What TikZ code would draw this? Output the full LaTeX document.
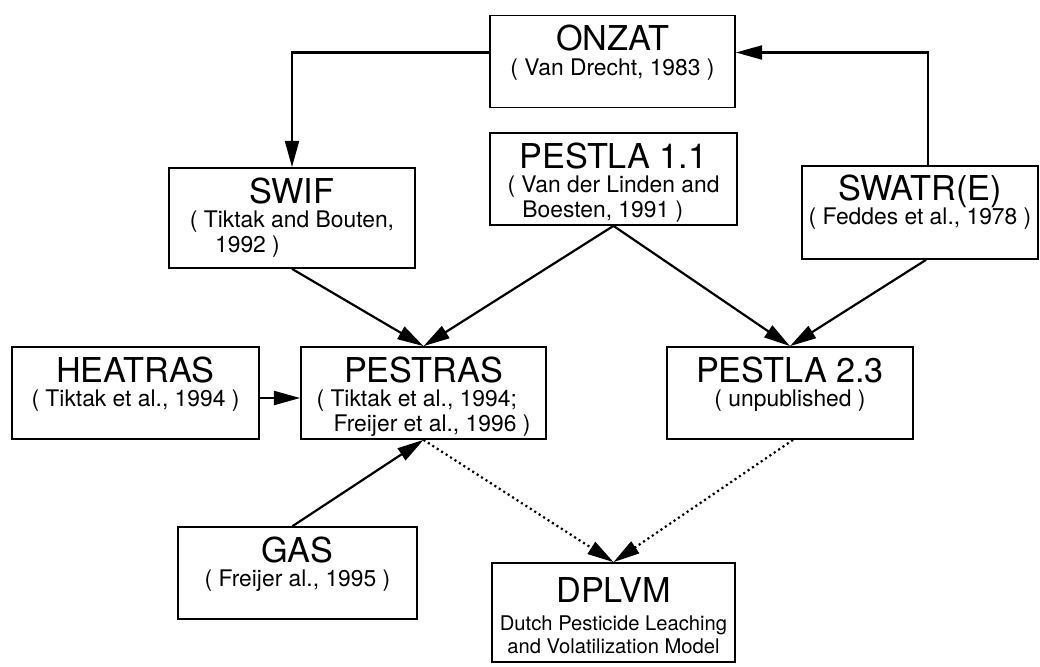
\documentclass[tikz,border=0pt]{standalone}
\usepackage{fontspec}
\setmainfont{TeX Gyre Heros}
\usetikzlibrary{arrows.meta,calc}
\newcommand{\ttl}[1]{{\fontsize{19.5}{21}\selectfont #1}}

\begin{document}
\begin{tikzpicture}[x=0.02cm, y=-0.02cm, >={Triangle[length=15pt,width=8pt]},
      box/.style={draw=black,line width=1pt,rectangle,inner sep=0pt,minimum width=4.9cm,minimum height=1.84cm},
      txt/.style={anchor=north,inner sep=0pt,align=center,font=\fontsize{13}{14}\selectfont},
      link/.style={line width=1.25pt,->},
      guess/.style={line width=1.25pt,->,dash pattern=on 1.2pt off 1.8pt}]
    \useasboundingbox (0,0) rectangle (1040,666);
    % top row
    \node[box] (onzat) at (612.5,61.5) {};
    \node[txt] (onzat-t) at ($(onzat.north)+(0,10)$) {\ttl{ONZAT}\\( Van Drecht, 1983 )};
    \node[box,minimum width=4.94cm] (pestla11) at (613.5,179) {};
    \node[txt] (pestla11-t) at ($(pestla11.north)+(0,10)$) {\ttl{PESTLA 1.1}\\\begin{tabular}[t]{@{}l@{}}( Van der Linden and\\\hspace{0.65em}Boesten, 1991 )\end{tabular}};
    \node[box,minimum width=4.92cm,minimum height=2cm] (swif) at (292,218) {};
    \node[txt] (swif-t) at ($(swif.north)+(0,10)$) {\ttl{SWIF}\\\begin{tabular}[t]{@{}l@{}}( Tiktak and Bouten,\\\hspace{1.1em}1992 )\end{tabular}};
    \node[box,minimum width=4.72cm,minimum height=1.86cm] (swatr) at (920,212.5) {};
    \node[txt] (swatr-t) at ($(swatr.north)+(0,9)$) {\ttl{SWATR(E)}\\( Feddes et al., 1978 )};
    % middle row
    \node[box,minimum width=4.94cm] (heatras) at (135.5,393) {};
    \node[txt] (heatras-t) at ($(heatras.north)+(0,10)$) {\ttl{HEATRAS}\\( Tiktak et al., 1994 )};
    \node[box] (pestras) at (423.5,393) {};
    \node[txt] (pestras-t) at ($(pestras.north)+(0,10)$) {\ttl{PESTRAS}\\\begin{tabular}[t]{@{}l@{}}( Tiktak et al., 1994;\\\hspace{0.75em}Freijer et al., 1996 )\end{tabular}};
    \node[box,minimum width=4.92cm] (pestla23) at (790,393) {};
    \node[txt] (pestla23-t) at ($(pestla23.north)+(0,10)$) {\ttl{PESTLA 2.3}\\( unpublished )};
    % bottom row
    \node[box,minimum width=4.78cm] (gas) at (297.5,573) {};
    \node[txt] (gas-t) at ($(gas.north)+(0,10)$) {\ttl{GAS}\\( Freijer al., 1995 )};
    \node[box,minimum width=4.86cm,minimum height=1.98cm] (dplvm) at (613.5,612.5) {};
    \node[txt,font=\fontsize{11.5}{13}\selectfont] (dplvm-t) at ($(dplvm.north)+(0,15)$) {\ttl{DPLVM}\\[3pt]Dutch Pesticide Leaching\\and Volatilization Model};
    % connections
    \draw[link] ($(swatr.north)+(8,0)$) |- ($(onzat.east)+(0,-9)$);
    \draw[link] ($(onzat.west)+(0,-9)$) -| (swif.north);
    \draw[link] (swif.south) -- (pestras.north);
    \draw[link] (pestla11.south) -- (pestras.north);
    \draw[link] (pestla11.south) -- (pestla23.north);
    \draw[link] ($(swatr.south)+(6,0)$) -- (pestla23.north);
    \draw[link] ($(heatras.east)+(0,5)$) -- ($(pestras.west)+(0,5)$);
    \draw[link] ($(gas.north)+(-5,0)$) -- (pestras.south);
    \draw[guess] (pestras.south) -- (dplvm.north);
    \draw[guess] ($(pestla23.south)+(3,0)$) -- (dplvm.north);
\end{tikzpicture}
\end{document}
